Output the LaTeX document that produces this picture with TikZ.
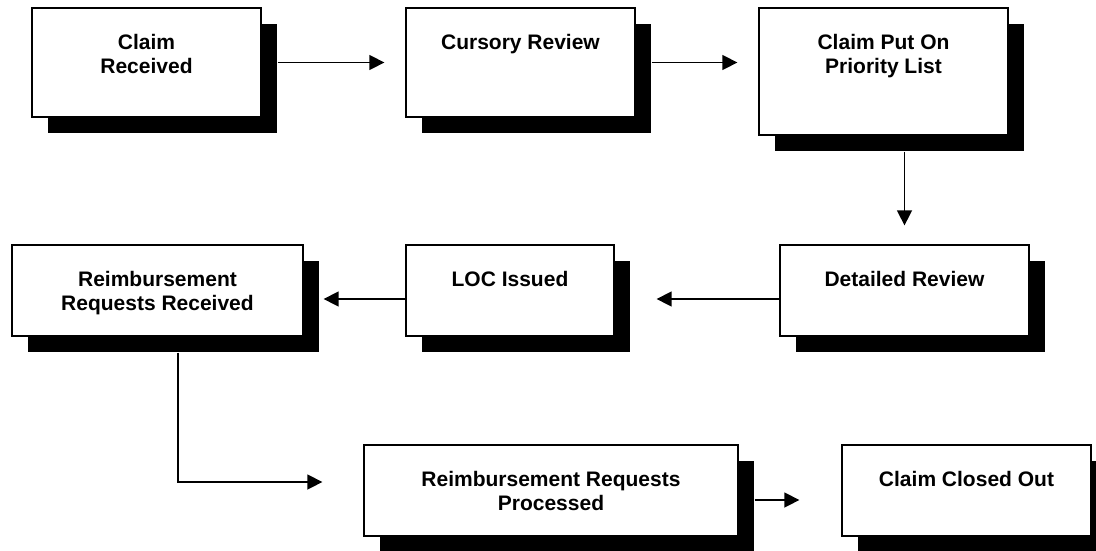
\documentclass[tikz,border=0pt]{standalone}
\usepackage{fontspec}
\setmainfont{Liberation Sans}
\usetikzlibrary{positioning,shadows,arrows.meta}

\begin{document}
\begin{tikzpicture}[x=1pt,y=-1pt,
        stage/.style={draw,line width=1.3pt,fill=white,inner sep=0pt,
            drop shadow={shadow xshift=16pt,shadow yshift=-16pt,opacity=1,fill=black}},
        caption/.style={inner sep=0pt,align=center,font=\bfseries\fontsize{21}{24}\selectfont},
        flow/.style={line width=1.5pt,-{Triangle[length=15pt,width=15pt]}}]
                \useasboundingbox (0,0) rectangle (1096,550);
                \clip (0,0) rectangle (1096,550);

                \node[stage,minimum width=229pt,minimum height=109pt] (cr) at (146.5,62.5){};
                \node[stage,minimum width=229pt,minimum height=109pt] (cur) at (520.5,62.5){};
                \node[stage,minimum width=249pt,minimum height=127pt] (cpl) at (883.5,71.5){};
                \node[stage,minimum width=249pt,minimum height=91pt] (dr) at (904.5,290.5){};
                \node[stage,minimum width=208pt,minimum height=91pt] (loc) at (510,290.5){};
                \node[stage,minimum width=291pt,minimum height=91pt] (rrr) at (157.5,290.5){};
                \node[stage,minimum width=374pt,minimum height=91pt] (rrp) at (551,490.5){};
                \node[stage,minimum width=249pt,minimum height=91pt] (cco) at (966.5,490.5){};

                \node[caption,below=27pt of cr.north] (crt) {Claim\\Received};
                \node[caption,below=27pt of cur.north] (curt) {Cursory Review};
                \node[caption,below=27pt of cpl.north] (cplt) {Claim Put On\\Priority List};
                \node[caption,below=27pt of dr.north] (drt) {Detailed Review};
                \node[caption,below=27pt of loc.north] (loct) {LOC Issued};
                \node[caption,below=27pt of rrr.north] (rrrt) {Reimbursement\\Requests Received};
                \node[caption,below=27pt of rrp.north] (rrpt) {Reimbursement Requests\\Processed};
                \node[caption,below=27pt of cco.north] (ccot) {Claim Closed Out};

                \draw[flow] ([xshift=16pt]cr.east) -- ([xshift=-21pt]cur.west);
                \draw[flow] ([xshift=16pt]cur.east) -- ([xshift=-21pt]cur.east -| cpl.west);
                \draw[flow] ([yshift=-16pt]cpl.south -| dr.north) -- ([yshift=19pt]dr.north);
                \draw[flow] ([yshift=-8.5pt]dr.west) -- ([xshift=42pt,yshift=-8.5pt]loc.east);
                \draw[flow] ([yshift=-8.5pt]loc.west) -- ([xshift=20pt,yshift=-8.5pt]rrr.east);
                \draw[flow] ([xshift=20.5pt,yshift=-16pt]rrr.south) |- ([xshift=-41pt,yshift=8.5pt]rrp.west);
                \draw[flow] ([xshift=16pt,yshift=-9.5pt]rrp.east) -- ([xshift=-42pt,yshift=-9.5pt]cco.west);
            \end{tikzpicture}
\end{document}
